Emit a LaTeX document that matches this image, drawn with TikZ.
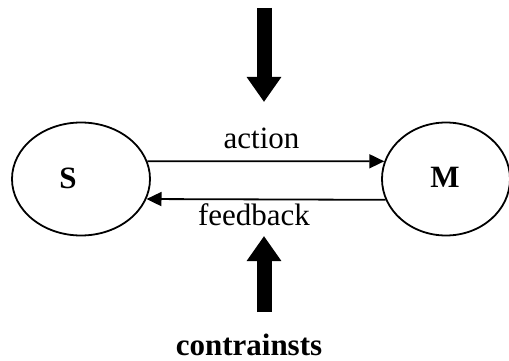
\documentclass[tikz,border=0pt]{standalone}
\usepackage{fontspec}
\setmainfont{Liberation Serif}
\usetikzlibrary{shapes.geometric,arrows.meta}
\begin{document}
\begin{tikzpicture}[x=1pt,y=-1pt,
  st/.style={draw,ellipse,line width=1.8pt,inner sep=0pt,minimum height=113pt},
  lbl/.style={font=\fontsize{31}{36}\selectfont,inner sep=0pt,anchor=base},
  blbl/.style={font=\fontsize{31}{36}\selectfont\bfseries,inner sep=0pt,anchor=base},
  thin/.style={line width=1.8pt,-{Triangle[width=14pt,length=15pt]}},
  big/.style={line width=15pt,-{Triangle[width=33pt,length=25pt]}}]
\useasboundingbox (0,0) rectangle (509,361);
\node[st,minimum width=138pt] (S) at (81,179) {};
\node[st,minimum width=128pt] (M) at (446,179) {};
\node[blbl] (s) at (68,188) {S};
\node[blbl] (m) at (445,187.5) {M};
\draw[thin] (S.15) -- (M.164);
\draw[thin] (M.199) -- (S.-17.5);
\node[lbl] (act) at (261.5,148) {action};
\node[lbl] (fb) at (254,225) {feedback};
\coordinate (t0) at (264,8);
\coordinate (t1) at (264,102);
\draw[big] (t0) -- (t1);
\node[blbl] (c) at (249,355) {contrainsts};
\coordinate (b0) at (264,312);
\coordinate (b1) at (264,236);
\draw[big] (b0) -- (b1);
\end{tikzpicture}
\end{document}
